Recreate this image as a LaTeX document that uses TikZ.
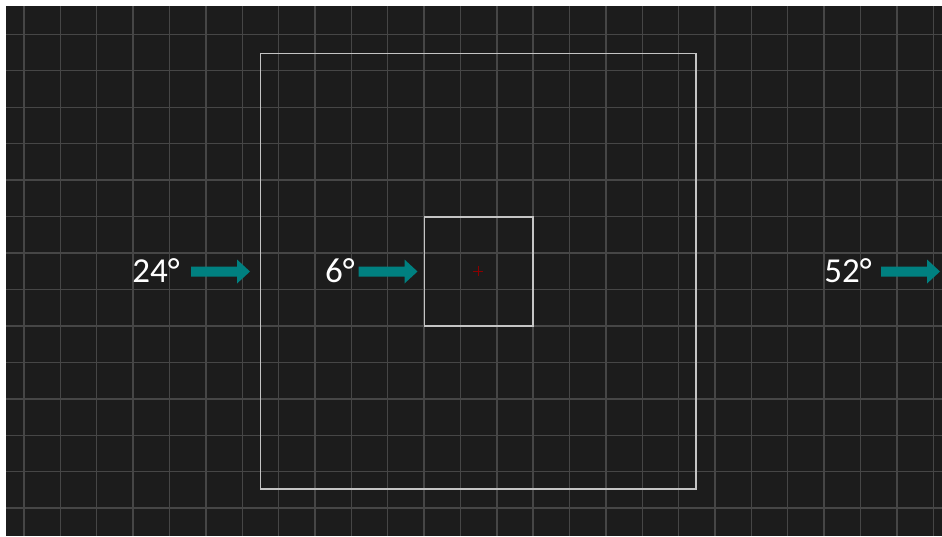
\documentclass[tikz,border=0pt]{standalone}
\usepackage{fontspec}
\usetikzlibrary{calc}
\setmainfont{Carlito}
\definecolor{bgdark}{HTML}{1C1C1C}
\definecolor{gridc}{HTML}{464646}
\definecolor{framec}{HTML}{C4C4C4}
\definecolor{arrowteal}{HTML}{008080}
\definecolor{crossred}{HTML}{8B0000}
\tikzset{
  gridline/.style={draw=gridc, line width=1.4pt},
  framebox/.style={draw=framec, line width=1.8pt},
  anglelabel/.style={text=white, font=\fontsize{35}{40}\selectfont, inner sep=0pt, anchor=base east},
  tarrow/.pic={\fill[arrowteal] (0,5)--(46,5)--(46,12)--(59,0)--(46,-12)--(46,-5)--(0,-5)--cycle;}
}
\begin{document}
\begin{tikzpicture}[x=1pt,y=1pt]
\useasboundingbox (0,0) rectangle (942,-536);
\fill[white] (0,0) rectangle (942,-536);
\fill[bgdark] (6,-6) rectangle (942,-536);
\begin{scope}
\clip (6,-6) rectangle (942,-536);
\foreach \k in {0,...,25} {
  \draw[gridline] ({24+36.37*\k},-6) -- ({24+36.37*\k},-536);
}
\foreach \k in {0,...,13} {
  \draw[gridline] (6,{-34.3-36.45*\k}) -- (942,{-34.3-36.45*\k});
}
\end{scope}
% frames
\draw[framebox] (260.5,-53.5) rectangle (696,-489);
\draw[framebox] (424.5,-216.7) rectangle (533,-325.7);
% centre cross
\coordinate (c) at (478,-271.3);
\draw[crossred, line width=1pt] ($(c)+(-5,0)$) -- ($(c)+(5,0)$) ($(c)+(0,-5)$) -- ($(c)+(0,5)$);
% arrows
\pic at (191,-271.5) {tarrow};
\pic at (358.5,-271.5) {tarrow};
\pic at (881,-271.5) {tarrow};
% labels
\node[anglelabel] (l24) at (180,-282) {24°};
\node[anglelabel] (l6) at (355,-282) {6°};
\node[anglelabel] (l52) at (872,-282) {52°};
\end{tikzpicture}
\end{document}
